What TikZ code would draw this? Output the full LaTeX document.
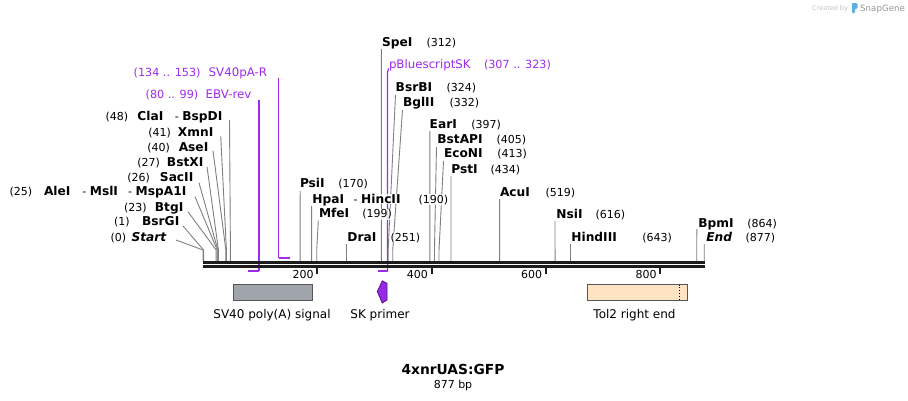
\documentclass[tikz,border=0pt]{standalone}
\usepackage{fontspec}
\setmainfont{DejaVu Sans}
\definecolor{leadgray}{RGB}{128,128,128}
\definecolor{barcol}{RGB}{28,28,28}
\definecolor{primcol}{RGB}{158,42,235}
\definecolor{skfill}{RGB}{150,40,230}
\definecolor{skdraw}{RGB}{90,20,140}
\definecolor{svfill}{RGB}{160,164,171}
\definecolor{tolfill}{RGB}{255,228,196}
\definecolor{boxdraw}{RGB}{85,85,85}
\definecolor{wmgray}{RGB}{195,195,195}
\definecolor{wmgraydk}{RGB}{150,150,150}
\definecolor{wmblue}{RGB}{95,175,230}
\newcommand{\fnum}{\fontsize{11}{13}\selectfont}
\newcommand{\fname}{\fontsize{12.2}{14}\selectfont\bfseries}
\newcommand{\enz}[4]{%
  \coordinate (t#1) at (#3,#4);
  \coordinate (k#1) at ({203+0.5715*#2},250);
  \coordinate (b#1) at ({203+0.5715*#2},261);
  \draw[leader] (t#1) -- (k#1) -- (b#1);}
\begin{document}
\begin{tikzpicture}[x=1pt,y=-1pt,
  lbl/.style={inner sep=0.5pt, fill=white, fill opacity=0.8, text opacity=1},
  numl/.style={lbl, anchor=base west, font=\fnum},
  namel/.style={lbl, anchor=base west, font=\fname},
  namer/.style={lbl, anchor=base east, font=\fname},
  dashl/.style={lbl, anchor=base west, font=\fnum},
  leader/.style={leadgray, line width=0.9pt},
  primlead/.style={primcol, line width=1.2pt},
  primseg/.style={primcol, line width=2pt},
  primlbl/.style={anchor=base west, inner sep=0.5pt, text=primcol, font=\fontsize{11.8}{14}\selectfont},
  primnum/.style={anchor=base west, inner sep=0.5pt, text=primcol, font=\fontsize{11.2}{14}\selectfont},
  featbox/.style={draw=boxdraw, line width=0.8pt, minimum height=16pt, inner sep=0pt},
  featlbl/.style={anchor=base, inner sep=0pt, font=\fontsize{12}{14}\selectfont},
  ticklbl/.style={anchor=base east, inner sep=0pt, font=\fontsize{11}{13}\selectfont},
  barline/.style={barcol, line width=2.6pt},
  tickmark/.style={barcol, line width=1.8pt}]
\useasboundingbox[fill=white] (0,0) rectangle (908,400);

% watermark
\node[anchor=base west, inner sep=0, text=wmgray, font=\fontsize{6.5}{8}\selectfont] (wm1) at (812,10) {Created by};
\fill[wmblue, rounded corners=0.8pt] (852,3) rectangle (855,13);
\fill[wmblue, rounded corners=1.5pt] (852.5,3) rectangle (857.5,9);
\node[anchor=base west, inner sep=0, text=wmgraydk, font=\fontsize{8.7}{10}\selectfont] (wm2) at (860,11) {SnapGene};

% primers
\coordinate (pSVt) at (278.5,78);
\coordinate (pSVk) at (278.5,258);
\coordinate (pSVe) at (289.8,258);
\draw[primlead] (pSVt) -- (pSVk);
\draw[primseg] (pSVk) -- (pSVe);
\coordinate (pEBt) at (259,100);
\coordinate (pEBk) at (259,270.5);
\coordinate (pEBe) at (248,270.5);
\draw[primlead] (pEBt) -- (pEBk);
\draw[primseg] (pEBk) -- (pEBe);
\coordinate (pBSt) at (388.8,68.5);
\coordinate (pBSm) at (387.5,72);
\coordinate (pBSk) at (387.5,270.5);
\coordinate (pBSe) at (377.5,270.5);
\draw[primlead] (pBSt) -- (pBSm) -- (pBSk);
\draw[primseg] (pBSk) -- (pBSe);

% enzyme leaders
\enz{SpeI}{312}{381.4}{49}
\enz{BsrBI}{324}{395.5}{95}
\enz{BglII}{332}{402.5}{110}
\enz{EarI}{397}{429.8}{131}
\enz{BstAPI}{405}{436.5}{147}
\enz{EcoNI}{413}{443.5}{161}
\enz{PstI}{434}{451}{176}
\enz{AcuI}{519}{499.6}{199}
\enz{NsiI}{616}{555}{221}
\enz{HindIII}{643}{570.5}{244}
\enz{BpmI}{864}{696.8}{229}
\enz{End}{877}{704.2}{244}
\enz{PsiI}{170}{300.2}{191}
\enz{HpaI}{190}{311.6}{206}
\enz{MfeI}{199}{318.3}{220.5}
\enz{DraI}{251}{346.4}{244}
\enz{Start}{0}{176}{240}
\enz{BsrGI}{1}{183}{226}
\enz{BtgI}{23}{188}{211.7}
\enz{AleI}{25}{195}{196.7}
\enz{SacII}{26}{199}{182.7}
\enz{BstXI}{27}{207}{166.7}
\enz{AseI}{40}{213}{150.7}
\enz{XmnI}{41}{220.7}{136}
\enz{ClaI}{48}{229.5}{120}

% sequence bar
\coordinate (barL1) at (203,262.3);
\coordinate (barR1) at (705,262.3);
\coordinate (barL2) at (203,266.6);
\coordinate (barR2) at (705,266.6);
\draw[barline] (barL1) -- (barR1);
\draw[barline] (barL2) -- (barR2);
\foreach \v in {200,400,600,800}{
  \draw[tickmark] ({203+0.5715*\v},267.5) -- ({203+0.5715*\v},274);
  \node[ticklbl] (tl\v) at ({203+0.5715*\v-3.5},278) {\v};
}

% right-side enzyme labels
\node[namel] (nSpeI) at (381.5,46.3) {SpeI};
\node[numl] (mSpeI) at (426,46.3) {(312)};
\node[primlbl] (lBS) at (388.3,68.3) {pBluescriptSK};
\node[primnum] (rBS) at (483.3,68.3) {(307 .. 323)};
\node[namel] (nBsrBI) at (395,91) {BsrBI};
\node[numl] (mBsrBI) at (446,91) {(324)};
\node[namel] (nBglII) at (402.3,106) {BglII};
\node[numl] (mBglII) at (449,106) {(332)};
\node[namel] (nEarI) at (429,128.3) {EarI};
\node[numl] (mEarI) at (470.7,128.3) {(397)};
\node[namel] (nBstAPI) at (436.7,143.3) {BstAPI};
\node[numl] (mBstAPI) at (496,143.3) {(405)};
\node[namel] (nEcoNI) at (443.3,157.6) {EcoNI};
\node[numl] (mEcoNI) at (496.7,157.6) {(413)};
\node[namel] (nPstI) at (450.7,173.3) {PstI};
\node[numl] (mPstI) at (490,173.3) {(434)};
\node[namel] (nAcuI) at (499.3,196) {AcuI};
\node[numl] (mAcuI) at (545,196) {(519)};
\node[namel] (nNsiI) at (555.7,218.3) {NsiI};
\node[numl] (mNsiI) at (595,218.3) {(616)};
\node[namel] (nHindIII) at (570.7,241) {HindIII};
\node[numl] (mHindIII) at (641.7,241) {(643)};
\node[namel] (nBpmI) at (697.7,227) {BpmI};
\node[numl] (mBpmI) at (746.7,227) {(864)};
\node[namel, font=\fname\itshape] (nEnd) at (705.7,241) {End};
\node[numl] (mEnd) at (745,241) {(877)};
\node[namel] (nPsiI) at (299.3,187.6) {PsiI};
\node[numl] (mPsiI) at (337.7,187.6) {(170)};
\node[namel] (nHpaI) at (311.7,203.3) {HpaI};
\node[dashl] (nHincII) at (353,203.3) {- \fname HincII};
\node[numl] (mHpaI) at (418,203.3) {(190)};
\node[namel] (nMfeI) at (318.3,217.6) {MfeI};
\node[numl] (mMfeI) at (361.7,217.6) {(199)};
\node[namel] (nDraI) at (346.7,241) {DraI};
\node[numl] (mDraI) at (390,241) {(251)};

% left-side enzyme labels
\node[namer, font=\fname\itshape] (nStart) at (167,241) {Start};
\node[numl] (mStart) at (110,241) {(0)};
\node[namer] (nBsrGI) at (180,225.3) {BsrGI};
\node[numl] (mBsrGI) at (113.3,225.3) {(1)};
\node[namer] (nBtgI) at (184,211) {BtgI};
\node[numl] (mBtgI) at (123.3,211) {(23)};
\node[numl] (mAleI) at (9,195.3) {(25)};
\node[namel] (nAleI) at (43.3,195.3) {AleI};
\node[dashl] (nMslI) at (81.7,195.3) {- \fname MslI};
\node[lbl, anchor=base east, font=\fnum] (nMspA1I) at (187,195.3) {- \fname MspA1I};
\node[namer] (nSacII) at (194,181) {SacII};
\node[numl] (mSacII) at (126.7,181) {(26)};
\node[namer] (nBstXI) at (204,166) {BstXI};
\node[numl] (mBstXI) at (136.7,166) {(27)};
\node[namer] (nAseI) at (209,151) {AseI};
\node[numl] (mAseI) at (146.7,151) {(40)};
\node[namer] (nXmnI) at (214,136.6) {XmnI};
\node[numl] (mXmnI) at (147.7,136.6) {(41)};
\node[numl] (mClaI) at (105,120.3) {(48)};
\node[namel] (nClaI) at (136.7,120.3) {ClaI};
\node[lbl, anchor=base east, font=\fnum] (nBspDI) at (223,120.3) {- \fname BspDI};

% primer labels
\node[primnum] (rSV) at (133,76.3) {(134 .. 153)};
\node[primlbl] (lSV) at (208,76.3) {SV40pA-R};
\node[primnum] (rEB) at (145,98.3) {(80 .. 99)};
\node[primlbl] (lEB) at (205,98.3) {EBV-rev};

% features
\node[featbox, fill=svfill, minimum width=79pt] (fSV) at (272.5,292) {};
\node[featbox, fill=tolfill, minimum width=100pt] (fTol) at (637,292) {};
\draw[black, line width=0.8pt, dotted] (679,284.5) -- (679,299.5);
\draw[fill=skfill, draw=skdraw, line width=0.8pt] (377.3,291.5) -- (382.3,280.8) -- (387,283.3) -- (387,300) -- (382.3,303) -- cycle;
\coordinate (fSK) at (382,292);
\node[featlbl] (lSVf) at (272,318) {SV40 poly(A) signal};
\node[featlbl] (lSK) at (380,318) {SK primer};
\node[featlbl] (lTol) at (634.5,318.4) {Tol2 right end};

% title
\node[anchor=base, inner sep=0, font=\fontsize{13.8}{16}\selectfont\bfseries] (title) at (453,374) {4xnrUAS:GFP};
\node[anchor=base, inner sep=0, font=\fontsize{11}{13}\selectfont] (len) at (453,388) {877 bp};
\end{tikzpicture}
\end{document}
